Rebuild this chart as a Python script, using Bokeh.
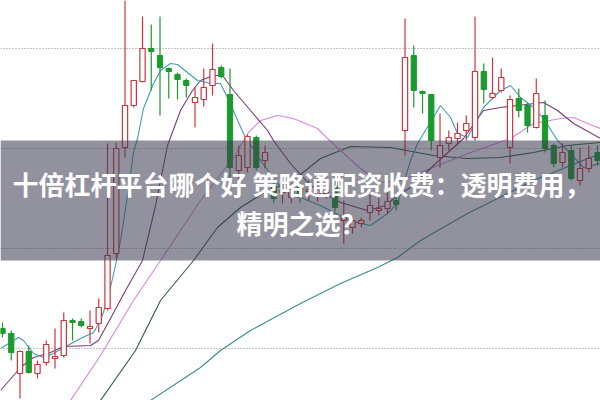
from bokeh.plotting import figure
from bokeh.models import BoxAnnotation, Label, FixedTicker, Range1d, ColumnDataSource
from bokeh.embed import file_html
from bokeh.resources import INLINE

# ---- candle data (price units) ----
opens = [1.20, 1.15, 0.75, 0.97, 0.75, 0.86, 0.90, 0.93, 1.28, 1.27, 1.20, 1.25, 1.40, 1.95, 3.01, 3.43, 3.67,
         4.00, 3.93, 3.80, 3.74, 3.68, 3.46, 3.49, 3.63, 3.81, 3.54, 2.78, 2.81, 3.11, 2.88, 2.62, 2.56, 2.51,
         2.62, 2.57, 2.54, 2.56, 2.66, 2.28, 2.21, 2.25, 2.36, 2.38, 2.40, 2.48, 3.18, 3.93, 3.57, 3.54, 2.91,
         3.05, 3.10, 3.18, 3.11, 3.77, 3.51, 3.58, 3.01, 3.50, 3.43, 3.21, 3.33, 3.03, 2.86, 2.98, 2.68, 2.80, 2.96]
closes = [1.15, 0.96, 0.97, 0.76, 0.84, 1.04, 0.92, 1.28, 1.26, 1.23, 1.22, 1.41, 1.93, 3.00, 3.43, 3.68, 4.00,
          3.97, 3.81, 3.77, 3.69, 3.63, 3.51, 3.61, 3.79, 3.72, 2.81, 2.93, 3.12, 2.81, 2.96, 2.50, 2.58, 2.59,
          2.51, 2.59, 2.62, 2.58, 2.41, 2.31, 2.28, 2.28, 2.43, 2.40, 2.47, 2.44, 3.91, 3.58, 3.55, 3.08, 3.03,
          3.11, 3.15, 3.25, 3.77, 3.59, 3.55, 3.71, 3.49, 3.38, 3.23, 3.55, 3.00, 2.85, 2.96, 2.70, 2.80, 2.90, 2.88]
highs = [1.26, 1.18, 0.98, 1.03, 0.88, 1.08, 1.20, 1.36, 1.30, 1.30, 1.38, 1.50, 3.05, 3.06, 4.48, 3.68, 4.32,
         4.24, 4.32, 3.81, 3.76, 3.70, 3.61, 3.80, 4.05, 3.83, 3.80, 3.03, 3.14, 3.13, 3.03, 2.68, 2.67, 2.65,
         2.66, 2.68, 2.71, 2.66, 2.70, 2.48, 2.32, 2.31, 2.58, 2.53, 2.56, 2.53, 4.30, 4.03, 3.58, 3.54, 3.35,
         3.18, 3.26, 3.33, 4.32, 3.85, 3.91, 3.80, 3.53, 3.60, 3.46, 3.70, 3.48, 3.05, 3.05, 3.03, 3.01, 3.03, 3.03]
lows = [1.11, 0.88, 0.50, 0.75, 0.70, 0.83, 0.80, 0.91, 1.08, 1.21, 1.05, 1.16, 1.38, 1.90, 2.91, 3.41, 3.66,
        3.58, 3.33, 3.50, 3.49, 3.51, 3.21, 3.42, 3.53, 3.70, 2.55, 2.61, 2.76, 2.78, 2.80, 2.46, 2.45, 2.45,
        2.46, 2.48, 2.47, 2.50, 2.37, 2.05, 2.15, 2.21, 2.28, 2.33, 2.35, 2.38, 2.93, 3.41, 3.35, 2.98, 2.81,
        2.98, 3.03, 3.08, 3.08, 3.45, 3.50, 3.56, 2.85, 3.31, 3.16, 3.20, 2.96, 2.81, 2.81, 2.68, 2.63, 2.76, 2.83]

# ---- moving-average lines (index position, price) ----
ma5_x = [-0.23, 1.83, 2.40, 3.54, 4.69, 5.83, 7.43, 8.91, 10.40, 11.20, 12.0, 12.91, 13.49, 14.29, 14.97, 15.43,
         16.11, 17.26, 18.06, 19.2, 20.0, 21.14, 22.29, 23.77, 24.91, 25.71, 27.54, 29.49, 31.43, 32.91, 34.06,
         36.34, 38.97, 40.91, 42.06, 44.0, 45.14, 46.63, 47.43, 50.06, 51.2, 52.0, 53.14, 54.97, 56.91, 58.06,
         59.2, 60.69, 61.83, 63.43, 64.57, 66.4, 68.34]
ma5_y = [1.00, 1.11, 1.08, 0.95, 0.91, 0.95, 1.03, 1.10, 1.16, 1.28, 1.48, 1.83, 2.08, 2.53, 2.96, 3.10,
         3.40, 3.65, 3.78, 3.85, 3.84, 3.76, 3.68, 3.65, 3.65, 3.51, 3.15, 2.88, 2.65, 2.56, 2.51,
         2.43, 2.31, 2.25, 2.23, 2.35, 2.45, 2.88, 3.05, 3.43, 3.31, 3.15, 3.11, 3.41, 3.58, 3.63,
         3.51, 3.41, 3.30, 3.08, 2.98, 2.81, 2.85]
ma10_x = [-0.23, 2.06, 3.54, 5.49, 6.97, 10.06, 10.97, 12.34, 14.06, 16.0, 17.49, 18.86, 20.34, 21.71, 22.63,
          24.11, 25.14, 26.4, 28.34, 30.29, 30.97, 32.91, 35.2, 38.63, 41.71, 43.77, 45.14, 46.63, 49.26,
          52.69, 54.97, 56.91, 58.86, 61.83, 63.43, 65.26, 68.34]
ma10_y = [0.58, 0.81, 0.91, 0.96, 1.02, 1.03, 1.08, 1.30, 1.58, 1.88, 2.43, 3.03, 3.38, 3.58, 3.68,
          3.73, 3.73, 3.58, 3.38, 3.18, 3.08, 2.85, 2.63, 2.46, 2.38, 2.43, 2.53, 2.61, 2.83,
          3.10, 3.38, 3.41, 3.43, 3.46, 3.38, 3.25, 3.10]
ma20_x = [7.77, 11.2, 14.97, 18.06, 22.63, 26.4, 28.11, 29.49, 31.43, 33.26, 36.0, 37.14, 38.63, 40.91, 43.2,
          45.49, 48.91, 53.49, 58.06, 60.69, 63.77, 65.26, 66.86, 68.34]
ma20_y = [0.48, 0.93, 1.48, 1.88, 2.48, 2.91, 3.16, 3.28, 3.33, 3.30, 3.20, 3.10, 2.98, 2.80, 2.66,
          2.68, 2.80, 2.96, 3.10, 3.25, 3.30, 3.31, 3.25, 3.20]
ma60_x = [11.2, 15.2, 18.06, 21.83, 24.57, 27.2, 30.29, 32.57, 34.06, 36.34, 39.77, 44.34, 49.26, 53.14, 56.91,
          60.69, 64.57, 68.34]
ma60_y = [0.48, 0.98, 1.48, 1.88, 2.21, 2.41, 2.58, 2.65, 2.74, 2.90, 3.02, 3.01, 2.93, 2.90, 2.91,
          2.96, 3.03, 3.06]
ma120_x = [16.91, 22.63, 24.91, 28.34, 34.06, 38.63, 42.86, 45.14, 47.77, 53.14, 60.69, 68.34]
ma120_y = [0.48, 0.81, 0.98, 1.18, 1.45, 1.65, 1.81, 1.91, 2.08, 2.35, 2.68, 2.95]

grid_levels = [1, 2, 3, 4]
title_line1 = "十倍杠杆平台哪个好 策略通配资收费：透明费用，"
title_line2 = "精明之选？"

RED = "#d0343c"
GREEN = "#1b9a2e"

n = len(opens)
idx = list(range(n))
up = [c >= o for o, c in zip(opens, closes)]


def subset(flag):
    sel = [i for i in idx if up[i] == flag]
    return ColumnDataSource(dict(
        x=sel,
        top=[max(opens[i], closes[i]) for i in sel],
        bottom=[min(opens[i], closes[i]) for i in sel],
        high=[highs[i] for i in sel],
        low=[lows[i] for i in sel],
    ))


src_up = subset(True)
src_dn = subset(False)

p = figure(width=600, height=400, output_backend="svg", toolbar_location=None,
           x_range=Range1d(-0.229, 68.34), y_range=Range1d(0.48, 4.48),
           x_axis_location=None, y_axis_location=None, min_border=0)
p.outline_line_color = None
p.background_fill_color = "white"
p.xgrid.visible = False
p.ygrid.ticker = FixedTicker(ticks=grid_levels)
p.ygrid.grid_line_color = "#8c8c8c"
p.ygrid.grid_line_dash = "1 2"
p.ygrid.grid_line_width = 1

# moving averages
p.line(ma120_x, ma120_y, line_color="#3d8c8c", line_width=1.1)
p.line(ma60_x, ma60_y, line_color="#2f5e38", line_width=1.1)
p.line(ma20_x, ma20_y, line_color="#de86de", line_width=1.1)
p.line(ma10_x, ma10_y, line_color="#7a3a78", line_width=1.1)
p.line(ma5_x, ma5_y, line_color="#3f9eb0", line_width=1.1)

# candles
p.segment(x0="x", y0="high", x1="x", y1="low", source=src_up, line_color=RED, line_width=1.2)
p.vbar(x="x", top="top", bottom="bottom", width=0.6, source=src_up,
       fill_color="white", line_color=RED, line_width=1.2)
p.segment(x0="x", y0="high", x1="x", y1="low", source=src_dn, line_color=GREEN, line_width=1.2)
p.vbar(x="x", top="top", bottom="bottom", width=0.6, source=src_dn,
       fill_color=GREEN, line_color=GREEN, line_width=1)

# overlay banner
p.add_layout(BoxAnnotation(bottom=1.88, top=3.08, fill_color="#3c3c52", fill_alpha=0.56,
                           line_alpha=0))
p.add_layout(Label(x=301, y=217, x_units="screen", y_units="screen", text=title_line1,
                   text_align="center", text_baseline="middle", text_font="Noto Sans CJK SC",
                   text_font_size="26px", text_font_style="bold", text_color="white"))
p.add_layout(Label(x=301, y=178, x_units="screen", y_units="screen", text=title_line2,
                   text_align="center", text_baseline="middle", text_font="Noto Sans CJK SC",
                   text_font_size="26px", text_font_style="bold", text_color="white"))

open("out.html", "w").write(file_html(p, INLINE))
